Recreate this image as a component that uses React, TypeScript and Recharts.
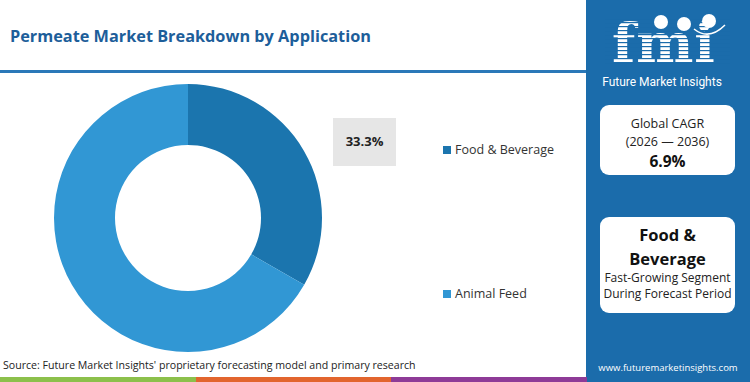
import React from 'react';
import { PieChart, Pie, Cell } from 'recharts';

const categories = ['Food & Beverage', 'Animal Feed'];
const shares = [33.3, 66.7];
const sliceColors = ['#1b75ae', '#3197d4'];
const highlightLabel = '33.3%';
const titleText = 'Permeate Market Breakdown by Application';
const sourceText = "Source: Future Market Insights' proprietary forecasting model and primary research";
const cagrLines = ['Global CAGR', '(2026 \u2014 2036)', '6.9%'];
const segmentLines = ['Food &', 'Beverage', 'Fast-Growing Segment', 'During Forecast Period'];
const stripeColors = ['#8cc04b', '#e2652e', '#8e3b97'];

const data = categories.map((name, i) => ({ name, value: shares[i] }));

const FONT = '"Open Sans", "DejaVu Sans", sans-serif';
const PANEL = '#1b6cab';

function Logo() {
  const stripes = [];
  for (let y = 18; y < 66; y += 4) {
    stripes.push(<rect key={y} x={605} y={y} width={125} height={1.2} fill={PANEL} />);
  }
  return (
    <svg width={164} height={100} viewBox="586 0 164 100" style={{ position: 'absolute', left: 586, top: 0 }}>
      <text x={612} y={62} fill="#ffffff" fontFamily='"DejaVu Serif", serif' fontWeight={700} fontSize={54} letterSpacing={1}>fmi</text>
      {stripes}
      <circle cx={661} cy={22} r={7} fill="#ffffff" />
      <circle cx={684} cy={24} r={7} fill="#ffffff" />
      <circle cx={709} cy={21} r={7} fill="#ffffff" />
      <path d="M694 29 Q709 41 725 25" stroke="#ffffff" strokeWidth={1.5} fill="none" />
      <text x={662} y={86} textAnchor="middle" fill="#ffffff" fontFamily='Roboto, "DejaVu Sans", sans-serif' fontSize={12}>Future Market Insights</text>
    </svg>
  );
}

export default function App() {
  return (
    <div style={{ position: 'absolute', left: 0, top: 0, width: 750, height: 382, background: '#ffffff', overflow: 'hidden', fontFamily: FONT }}>
      {/* Title */}
      <div style={{ position: 'absolute', left: 10, top: 25, fontSize: 16.3, fontWeight: 700, color: '#1d5e9a', whiteSpace: 'nowrap' }}>{titleText}</div>
      <div style={{ position: 'absolute', left: 0, top: 70, width: 586, height: 3, background: '#2a78b8' }} />

      {/* Chart */}
      <div style={{ position: 'absolute', left: 0, top: 0 }}>
        <PieChart width={586} height={382}>
          <Pie
            data={data}
            dataKey="value"
            nameKey="name"
            cx={183}
            cy={213}
            outerRadius={134}
            innerRadius={73}
            startAngle={90}
            endAngle={-270}
            stroke="none"
            isAnimationActive={false}
          >
            {data.map((d, i) => (
              <Cell key={d.name} fill={sliceColors[i]} />
            ))}
          </Pie>
        </PieChart>
      </div>

      {/* Highlight label */}
      <div style={{ position: 'absolute', left: 333, top: 118, width: 63, height: 48, background: '#e6e6e6', display: 'flex', alignItems: 'center', justifyContent: 'center', fontSize: 13, fontWeight: 700, color: '#222222', paddingBottom: 2, boxSizing: 'border-box' }}>{highlightLabel}</div>

      {/* Legend */}
      {categories.map((c, i) => (
        <div key={c} style={{ position: 'absolute', left: 443, top: i === 0 ? 141 : 285, display: 'flex', alignItems: 'center', fontSize: 12.5, color: '#333333', whiteSpace: 'nowrap' }}>
          <span style={{ display: 'inline-block', width: 8, height: 8, background: sliceColors[i], marginRight: 4 }} />
          {c}
        </div>
      ))}

      {/* Right panel */}
      <div style={{ position: 'absolute', left: 586, top: 0, width: 164, height: 382, background: PANEL }} />
      <Logo />
      <div style={{ position: 'absolute', left: 600, top: 105, width: 135, height: 70, background: '#ffffff', borderRadius: 9, textAlign: 'center', color: '#222222' }}>
        <div style={{ position: 'absolute', top: 10, width: '100%', fontSize: 12.5 }}>{cagrLines[0]}</div>
        <div style={{ position: 'absolute', top: 28, width: '100%', fontSize: 12.5 }}>{cagrLines[1]}</div>
        <div style={{ position: 'absolute', top: 45, width: '100%', fontSize: 15.5, fontWeight: 700, color: '#111111' }}>{cagrLines[2]}</div>
      </div>
      <div style={{ position: 'absolute', left: 600, top: 217, width: 135, height: 96, background: '#ffffff', borderRadius: 9, textAlign: 'center', color: '#111111' }}>
        <div style={{ position: 'absolute', top: 6, width: '100%', fontSize: 16.5, fontWeight: 700 }}>{segmentLines[0]}</div>
        <div style={{ position: 'absolute', top: 30, width: '100%', fontSize: 16.5, fontWeight: 700 }}>{segmentLines[1]}</div>
        <div style={{ position: 'absolute', top: 52, width: '100%', fontSize: 12, color: '#222222', whiteSpace: 'nowrap' }}>{segmentLines[2]}</div>
        <div style={{ position: 'absolute', top: 68, width: '100%', fontSize: 12, color: '#222222', whiteSpace: 'nowrap' }}>{segmentLines[3]}</div>
      </div>

      {/* Footer */}
      <div style={{ position: 'absolute', left: 3, top: 358, fontSize: 10.6, color: '#222222', whiteSpace: 'nowrap' }}>{sourceText}</div>
      <div style={{ position: 'absolute', left: 586, top: 361, width: 164, textAlign: 'center', fontSize: 9.5, color: '#ffffff' }}>www.futuremarketinsights.com</div>
      {stripeColors.map((c, i) => (
        <div key={c} style={{ position: 'absolute', left: i * 195.5, top: 377, width: 195.5, height: 5, background: c }} />
      ))}
    </div>
  );
}
